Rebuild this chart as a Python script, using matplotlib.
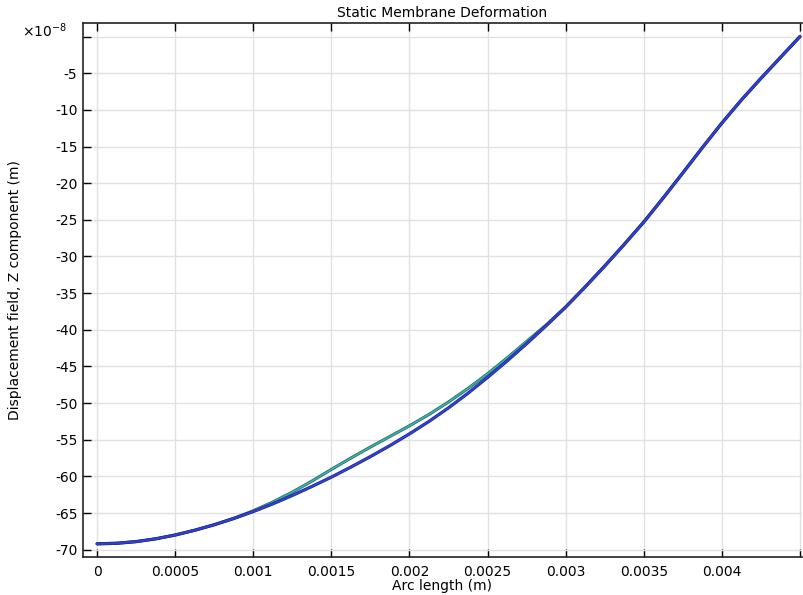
import matplotlib
matplotlib.use("Agg")
import matplotlib.pyplot as plt

arc_length = [0.0, 0.000125, 0.00025, 0.000375, 0.0005, 0.000625, 0.00075, 0.000875,
              0.001, 0.001125, 0.00125, 0.001375, 0.0015, 0.001625, 0.00175, 0.001875,
              0.002, 0.002125, 0.00225, 0.002375, 0.0025, 0.002625, 0.00275, 0.002875,
              0.003, 0.003125, 0.00325, 0.003375, 0.0035, 0.003625, 0.00375, 0.003875,
              0.004, 0.004125, 0.00425, 0.004375, 0.0045]
disp_lower = [-69.20, -69.13, -68.90, -68.52, -68.00, -67.35, -66.60, -65.75,
              -64.80, -63.75, -62.60, -61.38, -60.10, -58.73, -57.30, -55.80,
              -54.20, -52.50, -50.65, -48.65, -46.50, -44.25, -41.90, -39.45,
              -36.90, -34.15, -31.30, -28.35, -25.30, -22.00, -18.60, -15.15,
              -11.80, -8.65, -5.70, -2.85, 0.0]
disp_upper = [-69.20, -69.13, -68.90, -68.52, -68.00, -67.35, -66.60, -65.72,
              -64.70, -63.50, -62.15, -60.65, -59.05, -57.50, -56.00, -54.55,
              -53.10, -51.55, -49.85, -48.00, -46.00, -43.85, -41.60, -39.35,
              -36.90, -34.15, -31.30, -28.35, -25.30, -22.00, -18.60, -15.15,
              -11.80, -8.65, -5.70, -2.85, 0.0]

x_ticks = [0, 0.0005, 0.001, 0.0015, 0.002, 0.0025, 0.003, 0.0035, 0.004, 0.0045]
x_tick_labels = ["0", "0.0005", "0.001", "0.0015", "0.002", "0.0025", "0.003",
                 "0.0035", "0.004", ""]
y_ticks = [-70, -65, -60, -55, -50, -45, -40, -35, -30, -25, -20, -15, -10, -5, 0]
y_tick_labels = [str(v) for v in y_ticks[:-1]] + [""]

fig = plt.figure(figsize=(8.04, 5.95), dpi=100)
ax = fig.add_axes([83/804, 38/595, 719/804, 534/595])

ax.plot(arc_length, disp_upper, color="#3d5552", lw=2.2, solid_capstyle="round")
ax.plot(arc_length, disp_upper, color="#2ab5ae", lw=1.3, solid_capstyle="round")
ax.plot(arc_length, disp_lower, color="#1c2580", lw=2.3, solid_capstyle="round")
ax.plot(arc_length, disp_lower, color="#3040d2", lw=1.5, solid_capstyle="round")

ax.set_xlim(-0.0000903, 0.004513)
ax.set_ylim(-71.0, 1.85)
ax.set_xticks(x_ticks)
ax.set_xticklabels(x_tick_labels)
ax.set_yticks(y_ticks)
ax.set_yticklabels(y_tick_labels)
ax.tick_params(direction="in", length=6, width=1, labelsize=10, colors="black",
               top=True, right=False)
ax.tick_params(axis="x", pad=6)
ax.tick_params(axis="y", pad=4)
ax.grid(True, color="#e1e1e1", lw=1)
ax.set_axisbelow(True)
ax.spines["right"].set_visible(False)
for s in ["left", "bottom", "top"]:
    ax.spines[s].set_color("#222222")
    ax.spines[s].set_linewidth(1.2)

ax.set_title("Static Membrane Deformation", fontsize=10, pad=4)
ax.set_xlabel("Arc length (m)", fontsize=10, labelpad=0)
ax.set_ylabel("Displacement field, Z component (m)", fontsize=10)
ax.yaxis.set_label_coords(-0.0848, 0.5)
fig.text(22/804, 1 - 31/595, r"$\times$10$^{\mathregular{-8}}$", fontsize=10, va="center", ha="left")

fig.savefig("out.png", dpi=100)
